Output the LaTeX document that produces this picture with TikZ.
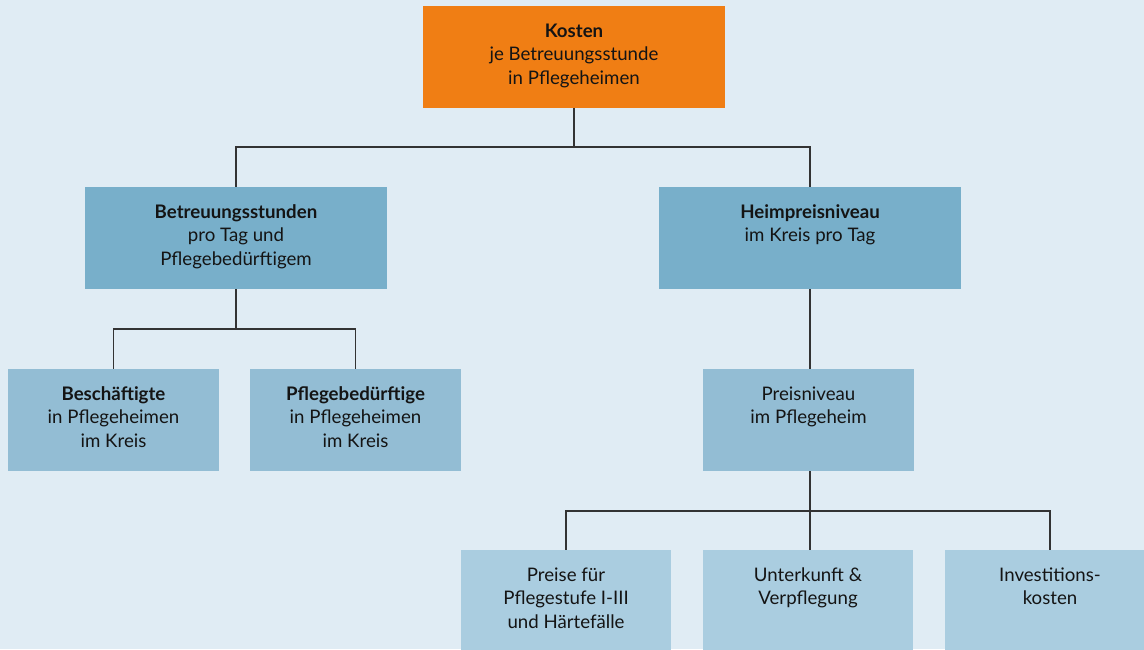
\documentclass[tikz,border=0pt]{standalone}
\usepackage{fontspec}
\setmainfont{Lato}
\definecolor{bg}{HTML}{E0ECF4}
\definecolor{orangebox}{HTML}{F07E14}
\definecolor{lvla}{HTML}{78AFCA}
\definecolor{lvlb}{HTML}{93BDD4}
\definecolor{lvlc}{HTML}{AACDE0}
\definecolor{linec}{HTML}{333333}
\definecolor{txt}{HTML}{141414}
\newcommand{\boxtxt}[3]{\parbox[c][#2][t]{#1}{\centering\rule{0pt}{23.5pt}#3}}
\tikzset{
  box/.style={rectangle, inner sep=0pt, outer sep=0pt, text=txt, font=\fontsize{14}{17.6}\selectfont},
  conn/.style={draw=linec, line width=1.1pt}
}
\begin{document}
\begin{tikzpicture}[x=0.75pt,y=-0.75pt]
\useasboundingbox (0,0) rectangle (1144,649);
\clip (0,0) rectangle (1144,649);
\fill[bg] (0,0) rectangle (1144,649);
% level 0
\node[box, fill=orangebox, anchor=north west] (kosten) at (423,6) {\boxtxt{226.5pt}{76.5pt}{\textbf{Kosten}\\je Betreuungsstunde\\in Pflegeheimen}};
% level 1
\node[box, fill=lvla, anchor=north west] (betr) at (85,187) {\boxtxt{226.5pt}{76.5pt}{\textbf{Betreuungsstunden}\\pro Tag und\\Pflegebedürftigem}};
\node[box, fill=lvla, anchor=north west] (heim) at (659,187) {\boxtxt{226.5pt}{76.5pt}{\textbf{Heimpreisniveau}\\im Kreis pro Tag}};
% level 2
\node[box, fill=lvlb, anchor=north west] (besch) at (8,369) {\boxtxt{158.25pt}{76.5pt}{\textbf{Beschäftigte}\\in Pflegeheimen\\im Kreis}};
\node[box, fill=lvlb, anchor=north west] (pflb) at (250,369) {\boxtxt{158.25pt}{76.5pt}{\textbf{Pflegebedürftige}\\in Pflegeheimen\\im Kreis}};
\node[box, fill=lvlb, anchor=north west] (preisn) at (703,369) {\boxtxt{158.25pt}{76.5pt}{Preisniveau\\im Pflegeheim}};
% level 3
\node[box, fill=lvlc, anchor=north west] (preise) at (461,550) {\boxtxt{157.5pt}{76.5pt}{Preise für\\Pflegestufe I-III\\und Härtefälle}};
\node[box, fill=lvlc, anchor=north west] (unterk) at (703,550) {\boxtxt{157.5pt}{76.5pt}{Unterkunft \&\\Verpflegung}};
\node[box, fill=lvlc, anchor=north west] (invest) at (945,550) {\boxtxt{157.5pt}{76.5pt}{Investitions-\\kosten}};
% connectors
\draw[conn] (kosten.south) -- ++(0,39) -| (betr.north);
\draw[conn] (kosten.south) ++(0,39) -| (heim.north);
\draw[conn] (betr.south) -- ++(0,40) -| (besch.north);
\draw[conn] (betr.south) ++(0,40) -| (pflb.north);
\draw[conn] (heim.south) -- (heim.south |- preisn.north);
\draw[conn] (heim.south |- preisn.south) -- ++(0,40) -| (preise.north);
\draw[conn] (heim.south |- preisn.south) -- (heim.south |- unterk.north);
\draw[conn] (heim.south |- preisn.south) ++(0,40) -| (invest.north);
\end{tikzpicture}
\end{document}
